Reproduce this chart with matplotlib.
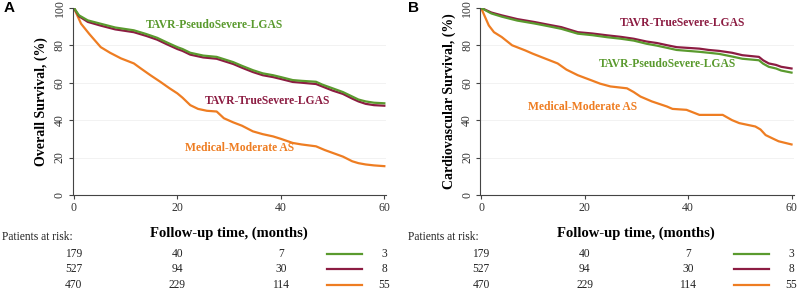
import matplotlib
matplotlib.use('Agg')
import matplotlib.pyplot as plt
from matplotlib.transforms import blended_transform_factory
from matplotlib.lines import Line2D

plt.rcParams['font.family'] = 'Liberation Serif'

green = '#5a9a2e'
red = '#8c1c42'
orange = '#ee7d22'

# Panel A - overall survival (month, %)
a_med_t = [0, 1.4, 3, 5.2, 7, 9.1, 11.6, 13, 14.8, 16.7, 18.5, 20, 21, 22.5, 24, 25.7, 27.6, 29, 30.8,
           32.5, 34.6, 36.5, 38.5, 40, 42.3, 44, 46.8, 48.5, 50, 52, 53.8, 55, 56.4, 58, 60]
a_med_s = [100, 91.5, 86, 79, 76, 73, 70.3, 67.5, 64, 60.5, 57, 54.3, 52, 48, 46, 45, 44.6, 41, 38.8,
           37, 34, 32.5, 31.3, 30, 27.8, 27, 26, 24, 22.5, 20.5, 18, 17, 16.3, 15.8, 15.4]
a_tav_t = [0, 1, 2.7, 5.2, 8, 11.6, 14, 16.1, 18, 20, 21, 22.5, 25, 27.6, 30.8, 32.5, 34.6, 36.5,
           38.5, 40, 42.3, 44, 46.8, 48, 50, 52, 53.8, 55, 56.4, 58, 60]
a_pseudo_s = [100, 96, 93.3, 91.5, 89.5, 88, 86, 84, 81.5, 79, 78, 76, 74.5, 73.8, 71, 69, 66.7, 65,
              64, 63, 61.4, 61, 60.5, 59, 57, 55, 52.6, 51, 50, 49.3, 49]
a_true_s = [100, 95.5, 92.5, 90.5, 88.5, 87, 85, 83, 80.5, 78, 77, 75, 73.5, 72.8, 70, 68, 65.7, 64,
            63, 62, 60.4, 60, 59.3, 58, 55.8, 54, 51.5, 50, 48.7, 48, 47.7]

# Panel B - cardiovascular survival
b_med_t = [0, 1.5, 2.5, 4, 6, 8.5, 10, 12.3, 14.8, 16.5, 18.7, 21.2, 23, 25, 28.2, 29.5, 30.8, 33,
           35.9, 37, 39.7, 42.2, 46.7, 48.5, 49.9, 53, 54, 55, 56.5, 57.5, 60]
b_med_s = [100, 90.6, 87, 84.4, 80, 77.3, 75.5, 73, 70.3, 67, 64, 61.4, 59.5, 58, 57, 55, 52.6, 50,
           47.3, 46, 45.5, 42.8, 42.8, 40, 38.4, 36.6, 35, 32, 30, 28.7, 27]
b_tav_t = [0, 2, 4, 7, 10.4, 13, 15.5, 18.7, 21.5, 24.4, 27, 29.5, 32, 34, 36, 37.8, 42.2, 44, 46,
           48.5, 50.5, 53.7, 54.5, 55.6, 57, 58, 60]
b_true_s = [100, 97.5, 96, 94, 92.4, 91, 89.7, 87, 86.3, 85.3, 84.5, 83.5, 82, 81.2, 80, 79, 78.2,
            77.5, 77, 76, 74.7, 73.8, 72, 70.3, 69.5, 68.5, 67.6]
b_pseudo_s = [100, 97, 95.3, 93.2, 91.6, 90.2, 88.8, 86.2, 85.4, 84.3, 83.5, 82.5, 80.8, 79.8, 78.6,
              77.5, 76.5, 76, 75.4, 74, 72.8, 72, 70.2, 68.5, 67.6, 66.5, 65.4]

risk_times = [0, 20, 40, 60]
risk_pseudo = [179, 40, 7, 3]
risk_true = [527, 94, 30, 8]
risk_med = [470, 229, 114, 55]

fig = plt.figure(figsize=(8, 2.91), dpi=100)
axA = fig.add_axes([0.091, 0.33, 0.392, 0.643])
axB = fig.add_axes([0.600, 0.33, 0.392, 0.643])


def km_panel(ax, med, true, pseudo, ylabel, labels, letter, letter_x, risk_x):
    ax.plot(med[0], med[1], color=orange, lw=1.6)
    ax.plot(true[0], true[1], color=red, lw=1.6)
    ax.plot(pseudo[0], pseudo[1], color=green, lw=1.6)
    ax.set_xlim(-0.2, 60.4)
    ax.set_ylim(0, 100)
    ax.set_xticks([0, 20, 40, 60])
    ax.set_yticks([0, 20, 40, 60, 80, 100])
    ax.set_yticklabels(['0', '20', '40', '60', '80', '100'], rotation=90, va='center')
    ax.tick_params(labelsize=8.5, length=3, width=0.8, color='#444444', labelcolor='#333333', pad=2)
    for y in [20, 40, 60, 80]:
        ax.axhline(y, color='#f0f0f0', lw=0.6, zorder=0)
    ax.spines['top'].set_visible(False)
    ax.spines['right'].set_visible(False)
    ax.spines['left'].set_color('#444444')
    ax.spines['bottom'].set_color('#444444')
    ax.set_ylabel(ylabel, fontsize=10, fontweight='bold', labelpad=4)
    for txt, x, y, c in labels:
        ax.text(x, y, txt, color=c, fontsize=8.4, fontweight='bold', ha='center', va='center')
    fig.text(letter_x, 0.972, letter, fontsize=11, fontweight='bold', family='Liberation Sans', va='center')
    ax.text(30, -0.204, 'Follow-up time, (months)', transform=ax.get_xaxis_transform(),
            ha='center', va='center', fontsize=10.5, fontweight='bold')
    tr = blended_transform_factory(ax.transData, fig.transFigure)
    fig.text(risk_x, 0.186, 'Patients at risk:', fontsize=8.3, va='center', color='#222222')
    rows = [(risk_pseudo, green, 0.127), (risk_true, red, 0.075), (risk_med, orange, 0.021)]
    for vals, c, yy in rows:
        for t, v in zip(risk_times, vals):
            ax.text(t, yy, str(v), transform=tr, ha='center', va='center', fontsize=8.3, color='#222222')
        ax.add_line(Line2D([48.9, 55.6], [yy, yy], transform=tr, color=c, lw=1.6, clip_on=False))


km_panel(axA, (a_med_t, a_med_s), (a_tav_t, a_true_s), (a_tav_t, a_pseudo_s),
         'Overall Survival, (%)',
         [('TAVR-PseudoSevere-LGAS', 27.2, 90.9, green),
          ('TAVR-TrueSevere-LGAS', 37.4, 50.3, red),
          ('Medical-Moderate AS', 32, 25.1, orange)],
         'A', 0.004, 0.003)
km_panel(axB, (b_med_t, b_med_s), (b_tav_t, b_true_s), (b_tav_t, b_pseudo_s),
         'Cardiovascular Survival, (%)',
         [('TAVR-TrueSevere-LGAS', 38.9, 92, red),
          ('TAVR-PseudoSevere-LGAS', 36, 70, green),
          ('Medical-Moderate AS', 19.7, 47, orange)],
         'B', 0.51, 0.51)

fig.savefig('out.png', dpi=100)
